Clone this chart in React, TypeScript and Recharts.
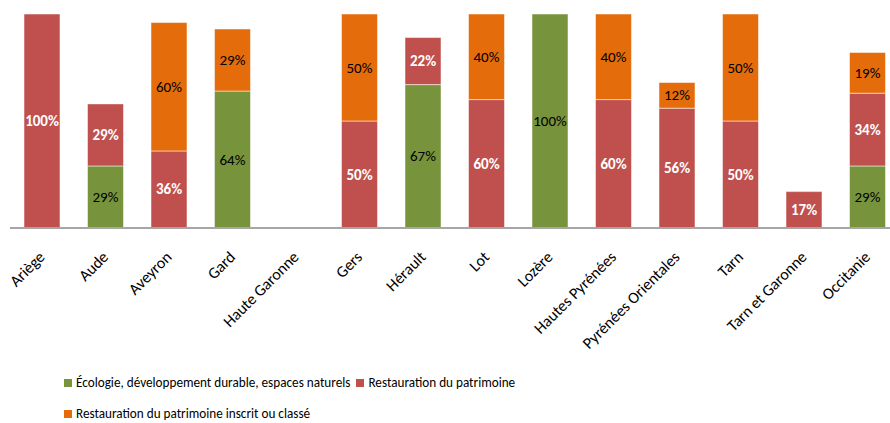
import React from 'react';
import { BarChart, Bar, XAxis, YAxis, Legend, LabelList } from 'recharts';

const departements = [
  'Ariège', 'Aude', 'Aveyron', 'Gard', 'Haute Garonne', 'Gers', 'Hérault', 'Lot',
  'Lozère', 'Hautes Pyrénées', 'Pyrénées Orientales', 'Tarn', 'Tarn et Garonne', 'Occitanie',
];
const ecologie = [null, 29, null, 64, null, null, 67, null, 100, null, null, null, null, 29];
const restauration = [100, 29, 36, null, null, 50, 22, 60, null, 60, 56, 50, 17, 34];
const inscrit = [null, null, 60, 29, null, 50, null, 40, null, 40, 12, 50, null, 19];
const seriesOrder = ['ecologie', 'restauration', 'inscrit'];

const data = departements.map((name, i) => ({
  name,
  ecologie: ecologie[i],
  restauration: restauration[i],
  inscrit: inscrit[i],
}));

const FONT = "Carlito, 'Open Sans', sans-serif";

const AngledTick = ({ x, y, payload }: any) => (
  <g transform={`translate(${x + 4},${y + 22})`}>
    <text textAnchor="end" transform="rotate(-45)" fontSize={16} fontFamily={FONT} fill="#000">
      {payload.value}
    </text>
  </g>
);

const makeLabel = (color: string, bold: boolean) => (props: any) => {
  const { x, y, width, height, value } = props;
  if (value == null || value === 0) return null;
  return (
    <text
      x={x + width / 2}
      y={y + height / 2}
      textAnchor="middle"
      dominantBaseline="central"
      fontSize={15}
      fontFamily={FONT}
      fontWeight={bold ? 700 : 400}
      fill={color}
    >
      {value}%
    </text>
  );
};

const renderLegend = (props: any) => {
  const items = [...(props.payload || [])].sort(
    (a: any, b: any) => seriesOrder.indexOf(a.dataKey) - seriesOrder.indexOf(b.dataKey)
  );
  return (
    <div style={{ display: 'flex', flexWrap: 'wrap', width: 600, height: 50, fontFamily: FONT, fontSize: 13.2, color: '#000' }}>
      {items.map((entry: any, i: number) => (
        <div key={i} style={{ display: 'flex', alignItems: 'center', height: 31, marginRight: 6 }}>
          <span style={{ display: 'inline-block', width: 8, height: 8, background: entry.color, marginRight: 4 }} />
          <span>{entry.value}</span>
        </div>
      ))}
    </div>
  );
};

export default function App() {
  return (
    <div style={{ position: 'absolute', left: 0, top: 0, width: 890, height: 423, overflow: 'hidden', background: '#fff' }}>
      <BarChart
        width={900}
        height={423}
        data={data}
        margin={{ top: 14, right: 1, left: 10, bottom: 0 }}
        barSize={36}
      >
        <XAxis
          dataKey="name"
          interval={0}
          tick={<AngledTick />}
          tickLine={false}
          axisLine={{ stroke: '#a6a6a6', strokeWidth: 2 }}
          height={145}
        />
        <YAxis hide domain={[0, 100]} />
        <Legend
          content={renderLegend}
          verticalAlign="bottom"
          wrapperStyle={{ left: 64, top: 367, width: 600, height: 50 }}
        />
        <Bar dataKey="ecologie" name="Écologie, développement durable, espaces naturels" stackId="a" fill="#77933c" stroke="#ffffff" strokeOpacity={0.5} isAnimationActive={false}>
          <LabelList dataKey="ecologie" content={makeLabel('#000', false)} />
        </Bar>
        <Bar dataKey="restauration" name="Restauration du patrimoine" stackId="a" fill="#c0504d" stroke="#ffffff" strokeOpacity={0.5} isAnimationActive={false}>
          <LabelList dataKey="restauration" content={makeLabel('#fff', true)} />
        </Bar>
        <Bar dataKey="inscrit" name="Restauration du patrimoine inscrit ou classé" stackId="a" fill="#e46c0a" stroke="#ffffff" strokeOpacity={0.5} isAnimationActive={false}>
          <LabelList dataKey="inscrit" content={makeLabel('#000', false)} />
        </Bar>
      </BarChart>
    </div>
  );
}
